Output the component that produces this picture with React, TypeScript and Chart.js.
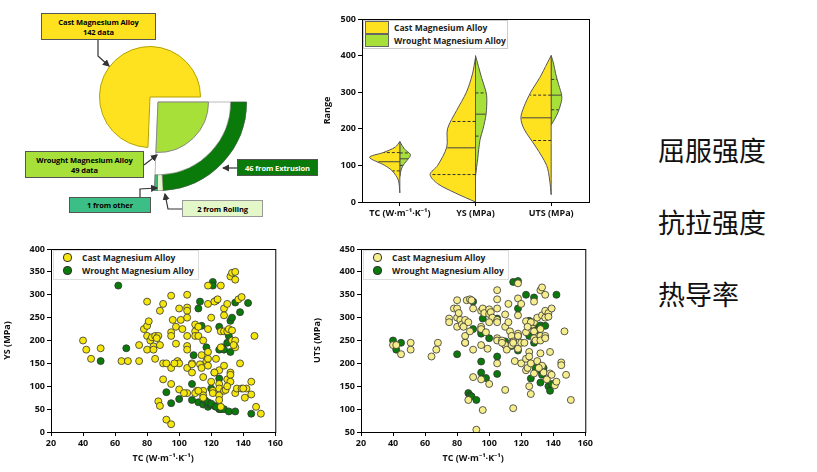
import React, { useEffect, useRef } from "react";
import { Chart, registerables } from "chart.js";
Chart.register(...registerables);

// ---------- data ----------
const pieCounts = [142, 49];
const wroughtSplit = [46, 2, 1]; // extrusion, rolling, other

const violinCats = ["TC (W·m⁻¹·K⁻¹)", "YS (MPa)", "UTS (MPa)"];
// density profiles: value, half-width (category units)
const tcCastY = [25, 60, 85, 100, 122, 135, 150, 165];
const tcCastW = [0, 0.02, 0.1, 0.2, 0.4, 0.22, 0.06, 0];
const tcWrY = [70, 90, 105, 120, 130, 145, 165];
const tcWrW = [0, 0.02, 0.06, 0.12, 0.14, 0.06, 0];
const ysCastY = [0, 25, 50, 75, 100, 150, 200, 250, 300, 350, 395];
const ysCastW = [0, 0.27, 0.5, 0.6, 0.5, 0.38, 0.37, 0.25, 0.12, 0.04, 0];
const ysWrY = [70, 120, 170, 200, 240, 280, 300, 340, 370, 400];
const ysWrW = [0, 0.03, 0.06, 0.1, 0.14, 0.15, 0.14, 0.08, 0.04, 0];
const utsCastY = [20, 60, 100, 150, 200, 230, 260, 300, 340, 380, 400];
const utsCastW = [0, 0.02, 0.06, 0.2, 0.36, 0.4, 0.36, 0.27, 0.15, 0.05, 0];
const utsWrY = [210, 240, 270, 290, 320, 350, 380, 400];
const utsWrW = [0, 0.08, 0.13, 0.14, 0.1, 0.06, 0.03, 0];
const castQuart = [[85, 110, 135], [75, 148, 220], [168, 230, 292]];
const wrQuart = [[100, 118, 134], [180, 240, 298], [252, 292, 335]];

const ysCast: number[][] = [[40,200],[42,180],[45,160],[51,183],[64,155],[68,155],[75,155],[75,190],[78,225],[80,285],[80,232],[81,242],[80,210],[80,180],[82,200],[83,207],[85,210],[84,187],[84,180],[85,160],[87,210],[88,190],[88,265],[90,280],[87,67],[88,57],[90,150],[90,115],[92,27],[95,17],[95,298],[95,218],[95,210],[95,140],[95,105],[96,245],[98,230],[98,193],[100,270],[99,155],[100,150],[100,93],[101,245],[102,225],[105,300],[105,272],[105,265],[105,250],[105,210],[105,188],[105,180],[105,140],[105,85],[108,150],[108,130],[110,235],[110,220],[110,210],[111,90],[110,85],[112,230],[112,210],[113,148],[114,168],[114,140],[115,200],[115,120],[115,90],[115,80],[117,155],[118,320],[118,280],[118,225],[118,175],[118,160],[118,145],[120,250],[120,110],[121,90],[121,85],[122,285],[123,160],[124,290],[125,135],[125,105],[125,95],[125,80],[125,70],[126,320],[126,220],[126,55],[128,270],[128,255],[128,220],[128,145],[128,90],[129,92],[130,115],[130,220],[131,225],[132,340],[132,130],[132,125],[132,110],[133,348],[133,222],[133,200],[135,350],[135,333],[135,200],[135,185],[135,85],[136,95],[137,290],[138,150],[139,295],[139,95],[141,75],[142,95],[145,110],[145,82],[147,210],[148,55],[151,40],[112,90],[130,100],[115,75],[103,85],[108,148],[97,150],[122,130],[126,185],[130,280],[134,190],[140,95],[86,205],[92,150]];
const ysWrought: number[][] = [[51,155],[62,320],[67,183],[92,87],[95,63],[100,72],[108,70],[108,105],[109,168],[112,270],[112,65],[113,285],[114,232],[115,60],[116,70],[117,185],[118,55],[119,60],[120,95],[121,328],[121,320],[122,130],[122,57],[123,287],[125,230],[125,180],[125,117],[125,50],[126,50],[127,185],[128,180],[128,50],[130,220],[130,195],[131,210],[131,45],[132,243],[132,175],[133,250],[133,200],[135,283],[135,45],[138,262],[143,282],[145,40],[118,65],[120,62],[123,55]];
const utsCast: number[][] = [[40,240],[42,240],[45,220],[51,245],[51,230],[64,215],[67,230],[68,245],[75,298],[75,290],[78,320],[80,338],[80,320],[80,300],[80,280],[81,310],[82,295],[83,285],[84,280],[85,295],[85,260],[85,245],[86,338],[87,290],[87,120],[88,270],[88,340],[89,338],[90,320],[90,230],[90,170],[92,55],[95,315],[95,280],[95,275],[95,240],[95,165],[96,98],[96,320],[97,310],[98,268],[99,232],[100,318],[100,308],[100,155],[101,312],[102,300],[105,360],[105,340],[105,320],[105,295],[105,290],[105,255],[105,250],[105,200],[108,250],[110,307],[110,280],[110,240],[110,142],[111,230],[112,330],[112,290],[113,270],[114,260],[114,240],[115,102],[115,248],[116,205],[118,375],[118,342],[118,305],[118,265],[118,260],[118,232],[120,330],[120,245],[120,200],[122,245],[123,292],[123,268],[123,210],[123,185],[124,190],[125,225],[125,215],[125,150],[126,133],[126,200],[127,285],[128,335],[128,290],[128,270],[128,255],[128,178],[129,250],[130,300],[130,205],[132,360],[132,275],[132,260],[132,250],[132,222],[133,366],[133,305],[133,195],[134,180],[135,350],[135,315],[135,300],[135,260],[135,255],[136,165],[137,310],[137,302],[138,225],[138,178],[139,320],[139,175],[141,152],[142,160],[145,202],[145,196],[147,270],[148,175],[151,120],[115,245],[108,245],[100,290],[126,290],[124,280],[131,190]];
const utsWrought: number[][] = [[40,250],[42,230],[45,245],[80,220],[85,245],[87,135],[88,130],[89,128],[90,335],[90,275],[92,120],[95,270],[95,265],[95,204],[95,180],[96,298],[98,168],[100,255],[105,298],[105,215],[105,177],[110,248],[110,240],[114,238],[115,378],[115,250],[118,380],[118,320],[118,260],[118,228],[123,350],[125,293],[125,282],[125,260],[126,167],[128,344],[128,280],[128,245],[129,190],[130,272],[132,283],[132,158],[132,185],[133,175],[134,190],[135,282],[137,150],[138,140],[139,155],[142,350]];

// ---------- styling ----------
const FONT = "'Open Sans', 'Noto Sans', sans-serif";
const YELLOW = "#ffe21f";
const LGREEN = "#a8e03a";
const DGREEN = "#0a7a0a";

const framePlugin = {
  id: "frame",
  afterDraw(chart: any) {
    const a = chart.chartArea;
    if (!a) return;
    const c = chart.ctx;
    c.save();
    c.strokeStyle = "#000";
    c.lineWidth = 1;
    c.strokeRect(a.left + 0.5, a.top + 0.5, a.right - a.left, a.bottom - a.top);
    c.restore();
  },
};

function ChartBox({ config, left, top, width, height }: any) {
  const ref = useRef<HTMLCanvasElement>(null);
  useEffect(() => {
    const ch = new Chart(ref.current!, config);
    return () => ch.destroy();
  }, []);
  return (
    <canvas ref={ref} width={width} height={height}
      style={{ position: "absolute", left, top, width, height }} />
  );
}

const tickFont = { family: FONT, size: 9, weight: "bold" as const };
const noPlug = { legend: { display: false }, tooltip: { enabled: false } };

function axis(min: number, max: number, step: number, title: string, isY: boolean, size: number) {
  return {
    type: "linear",
    min, max,
    ticks: { stepSize: step, font: tickFont, color: "#111", padding: 2 },
    grid: { drawOnChartArea: false, drawTicks: true, tickLength: 4, color: "#000" },
    border: { color: "#000" },
    title: { display: true, text: title, font: tickFont, color: "#111", padding: isY ? 2 : 1 },
    afterFit: (s: any) => { if (isY) s.width = size; else s.height = size; },
  };
}

function pieCfg(data: number[], colors: string[], borders: number[], cutout: any, border = "#777") {
  return {
    type: "doughnut",
    data: { datasets: [{ data, backgroundColor: colors, borderWidth: borders, borderColor: border }] },
    options: {
      responsive: false, animation: false, rotation: 90, cutout,
      plugins: noPlug, layout: { padding: 0 },
    },
  };
}

function interp(ys: number[], ws: number[], v: number) {
  for (let i = 0; i < ys.length - 1; i++) {
    if (v >= ys[i] && v <= ys[i + 1]) {
      const t = (v - ys[i]) / (ys[i + 1] - ys[i]);
      return ws[i] + t * (ws[i + 1] - ws[i]);
    }
  }
  return 0;
}

function violinSets() {
  const profiles = [
    [tcCastY, tcCastW, tcWrY, tcWrW],
    [ysCastY, ysCastW, ysWrY, ysWrW],
    [utsCastY, utsCastW, utsWrY, utsWrW],
  ];
  const sets: any[] = [];
  profiles.forEach((p, i) => {
    const c = i + 0.5;
    [[p[0], p[1], -1, YELLOW, castQuart[i]], [p[2], p[3], 1, LGREEN, wrQuart[i]]].forEach((h: any) => {
      const [ys, ws, s, col, q] = h;
      const pts = ys.map((y: number, k: number) => ({ x: c + s * ws[k], y }));
      pts.push({ x: c, y: ys[ys.length - 1] }, { x: c, y: ys[0] }, { x: c + s * ws[0], y: ys[0] });
      sets.push({
        data: pts, showLine: true, fill: "shape", backgroundColor: col, order: 5,
        borderColor: "#555", borderWidth: 1, pointRadius: 0, tension: 0.3,
      });
      q.forEach((v: number, k: number) => {
        const w = interp(ys, ws, v) * 0.97;
        sets.push({
          data: [{ x: c, y: v }, { x: c + s * w, y: v }], showLine: true, order: 1,
          borderColor: k === 1 ? "#444" : "#333", borderWidth: 1,
          borderDash: k === 1 ? [] : [3, 2], pointRadius: 0, fill: false,
        });
      });
    });
  });
  return sets;
}

const violinCfg = {
  type: "scatter",
  data: { datasets: violinSets() },
  options: {
    responsive: false, animation: false, plugins: noPlug,
    layout: { padding: { top: 14, right: 5, left: 0, bottom: 0 } },
    scales: {
      x: {
        ...axis(0, 3, 1, "", false, 20),
        title: { display: false },
        afterBuildTicks: (s: any) => { s.ticks = [0.5, 1.5, 2.5].map((v) => ({ value: v })); },
        ticks: { font: tickFont, color: "#111", padding: 2, callback: (_v: any, i: number) => violinCats[i] },
      },
      y: axis(0, 500, 100, "Range", true, 42),
    },
  },
  plugins: [framePlugin],
};

function scatterCfg(cast: number[][], wr: number[][], ymin: number, ymax: number, title: string, castCol: string) {
  const pt = (a: number[][]) => a.map(([x, y]) => ({ x, y }));
  return {
    type: "scatter",
    data: {
      datasets: [
        { data: pt(cast), backgroundColor: castCol, borderColor: "#333", borderWidth: 0.8, pointRadius: 3.5 },
        { data: pt(wr), backgroundColor: DGREEN, borderColor: "#333", borderWidth: 0.8, pointRadius: 3.5 },
      ],
    },
    options: {
      responsive: false, animation: false, plugins: noPlug,
      layout: { padding: { top: 9, right: 6, left: 0, bottom: 0 } },
      scales: {
        x: axis(20, 160, 20, "TC (W·m⁻¹·K⁻¹)", false, 33),
        y: axis(ymin, ymax, 50, title, true, 51),
      },
    },
    plugins: [framePlugin],
  };
}

const lbl: React.CSSProperties = {
  position: "absolute", fontFamily: FONT, fontWeight: 700, fontSize: 7.5, whiteSpace: "nowrap",
  textAlign: "center", border: "1px solid #555", boxSizing: "border-box", letterSpacing: -0.1,
  display: "flex", flexDirection: "column", justifyContent: "center", lineHeight: "10px",
};

function ScatterLegend({ left, top, castCol }: any) {
  const row = (col: string, t: string) => (
    <div style={{ display: "flex", alignItems: "center", height: 13 }}>
      <span style={{ width: 7, height: 7, borderRadius: 4, background: col, border: "1px solid #333", margin: "0 10px 0 9px", flex: "none" }} />
      <span>{t}</span>
    </div>
  );
  return (
    <div style={{ position: "absolute", left, top, width: 144, height: 28, border: "1px solid #ddd", whiteSpace: "nowrap",
      fontFamily: FONT, fontWeight: 700, fontSize: 8.5, color: "#222", background: "#fff" }}>
      {row(castCol, "Cast Magnesium Alloy")}
      {row(DGREEN, "Wrought Magnesium Alloy")}
    </div>
  );
}

export default function App() {
  const cn: React.CSSProperties = { position: "absolute", left: 658, fontFamily: "'Noto Sans CJK SC'", fontSize: 27, color: "#111" };
  return (
    <div style={{ position: "fixed", left: 0, top: 0, width: 817, height: 472, background: "#fff", overflow: "hidden" }}>
      {/* pie composite */}
      <ChartBox left={99} top={46} width={102} height={102}
        config={pieCfg(pieCounts.slice().reverse(), ["rgba(0,0,0,0)", YELLOW], [0, 1], 0, "#b3a300")} />
      <ChartBox left={69} top={13} width={178} height={178}
        config={pieCfg([pieCounts[1], pieCounts[0]], ["#fff", "rgba(0,0,0,0)"], [1, 0], 0, "#bbb")} />
      <ChartBox left={107} top={51} width={102} height={102}
        config={pieCfg([pieCounts[1], pieCounts[0]], [LGREEN, "rgba(0,0,0,0)"], [1, 0], 0, "#888")} />
      <ChartBox left={69} top={13} width={178} height={178}
        config={pieCfg([...wroughtSplit, pieCounts[0]], [DGREEN, "#e4f7c8", "#3cbf86", "rgba(0,0,0,0)"], [0.5, 0.5, 0.5, 0], "82%", "#555")} />

      <div style={{ ...lbl, left: 41, top: 13, width: 115, height: 27, background: YELLOW }}>
        <div>Cast Magnesium Alloy</div><div>142 data</div>
      </div>
      <div style={{ ...lbl, left: 25, top: 151, width: 119, height: 27, background: LGREEN }}>
        <div>Wrought Magnesium Alloy</div><div>49 data</div>
      </div>
      <div style={{ ...lbl, left: 237, top: 159, width: 81, height: 17, background: DGREEN, color: "#fff" }}>46 from Extrusion</div>
      <div style={{ ...lbl, left: 69, top: 197, width: 82, height: 16, background: "#3cbf86" }}>1 from other</div>
      <div style={{ ...lbl, left: 182, top: 200, width: 81, height: 17, background: "#e4f7c8", borderColor: "#999" }}>2 from Rolling</div>
      <svg width={330} height={225} style={{ position: "absolute", left: 0, top: 0 }}>
        <defs>
          <marker id="ah" markerWidth="6" markerHeight="6" refX="5" refY="3" orient="auto">
            <path d="M0,0 L6,3 L0,6 z" fill="#333" />
          </marker>
        </defs>
        <g stroke="#333" strokeWidth={1.2} fill="none" markerEnd="url(#ah)">
          <polyline points="98,40 98,56 109,66" />
          <polyline points="144,165 157,155" />
          <polyline points="237,168 223,168" />
          <polyline points="140,197 140,189 157,188" />
          <polyline points="182,209 168,209 165,194" />
        </g>
      </svg>

      {/* violin */}
      <ChartBox left={320} top={5} width={274} height={217} config={violinCfg} />
      <div style={{ position: "absolute", left: 363, top: 20, width: 143, height: 27, border: "1px solid #ccc", whiteSpace: "nowrap",
        background: "#fff", fontFamily: FONT, fontWeight: 700, fontSize: 8.5, color: "#222" }}>
        {[[YELLOW, "Cast Magnesium Alloy"], [LGREEN, "Wrought Magnesium Alloy"]].map(([c, t]) => (
          <div key={t} style={{ display: "flex", alignItems: "center", height: 13 }}>
            <span style={{ width: 22, height: 11, background: c, border: "1px solid #666", margin: "0 5px 0 1px", flex: "none" }} />
            <span>{t}</span>
          </div>
        ))}
      </div>

      {/* scatters */}
      <ChartBox left={0} top={240} width={285} height={225} config={scatterCfg(ysCast, ysWrought, 0, 400, "YS (MPa)", "#f5e60c")} />
      <ScatterLegend left={53} top={250} castCol="#f5e60c" />
      <ChartBox left={310} top={240} width={285} height={225} config={scatterCfg(utsCast, utsWrought, 50, 450, "UTS (MPa)", "#f6ee8c")} />
      <ScatterLegend left={363} top={250} castCol="#f6ee8c" />

      <div style={{ ...cn, top: 130 }}>屈服强度</div>
      <div style={{ ...cn, top: 202 }}>抗拉强度</div>
      <div style={{ ...cn, top: 274 }}>热导率</div>
    </div>
  );
}
